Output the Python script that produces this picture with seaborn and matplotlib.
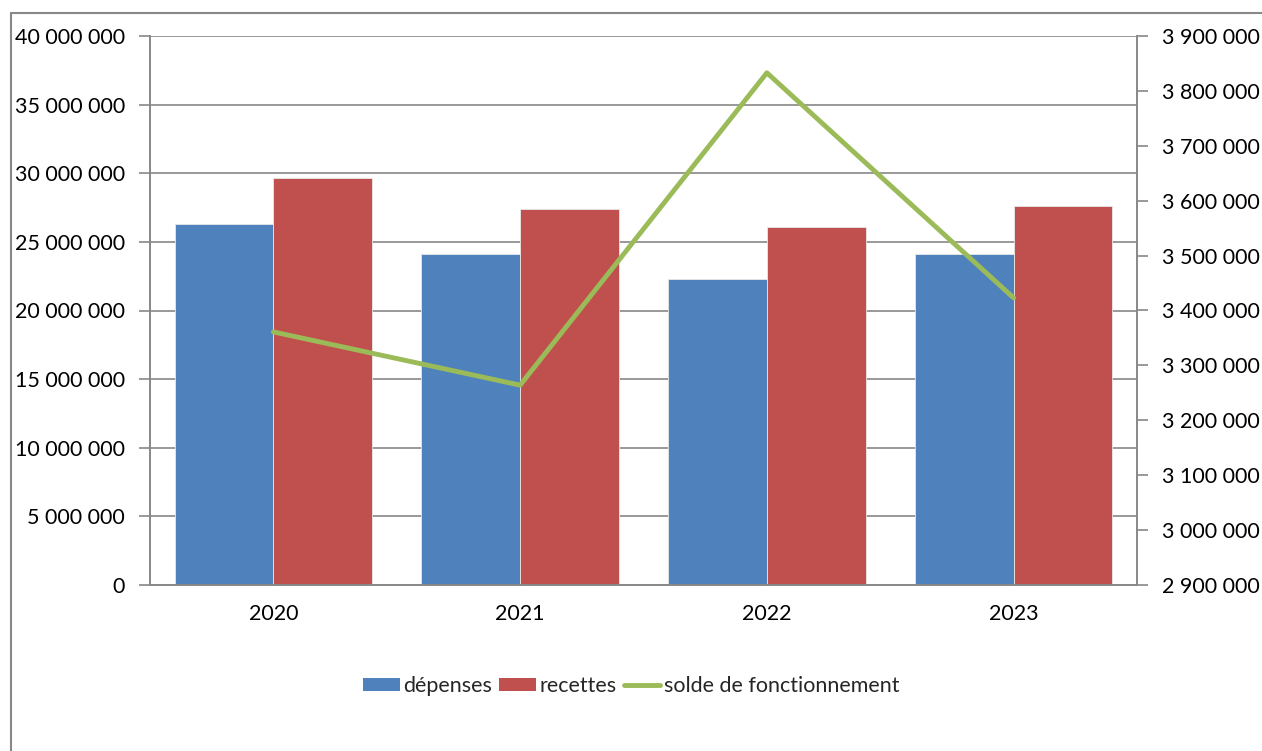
import numpy as np
import pandas as pd
import matplotlib
matplotlib.use("Agg")
import matplotlib.pyplot as plt
import seaborn as sns
from matplotlib.lines import Line2D
from matplotlib.patches import Patch
from matplotlib.ticker import FuncFormatter, FixedLocator

annees = ["2020", "2021", "2022", "2023"]
depenses = [26300000, 24120000, 22300000, 24120000]
recettes = [29650000, 27400000, 26080000, 27610000]
solde = [3361000, 3264000, 3833000, 3423000]

bleu = "#4F81BD"
rouge = "#C0504D"
vert = "#9BBB59"
gris = "#888888"

sns.set_style("white")
plt.rcParams['font.family'] = ['Lato', 'DejaVu Sans']

df = pd.DataFrame({
    "annee": annees * 2,
    "valeur": depenses + recettes,
    "serie": ["dépenses"] * 4 + ["recettes"] * 4,
})

def fmt(v, pos):
    return f"{int(round(v)):,}".replace(",", " ")

fig = plt.figure(figsize=(12.62, 7.51), dpi=100)
ax = fig.add_axes([150/1262, 1-585/751, (1137-150)/1262, (585-36)/751])

sns.barplot(data=df, x="annee", y="valeur", hue="serie",
            palette=[bleu, rouge], saturation=1, width=0.8,
            edgecolor="#e8e8e8", linewidth=0.6, ax=ax, legend=False)
ax.set_ylim(0, 40000000)
ax.set_xlim(-0.5, 3.5)
ax.yaxis.set_major_locator(FixedLocator(np.arange(0, 40000001, 5000000)))
ax.yaxis.set_major_formatter(FuncFormatter(fmt))
ax.grid(axis="y", color=gris, linewidth=1.2)
ax.set_axisbelow(True)
ax.set_xlabel("")
ax.set_ylabel("")

ax2 = ax.twinx()
ax2.plot(np.arange(len(annees)), solde, color=vert, linewidth=3.5, solid_capstyle="round")
ax2.set_ylim(2900000, 3900000)
ax2.yaxis.set_major_locator(FixedLocator(np.arange(2900000, 3900001, 100000)))
ax2.yaxis.set_major_formatter(FuncFormatter(fmt))

for a in (ax, ax2):
    for s in a.spines.values():
        s.set_color(gris)
        s.set_linewidth(1.2)
    a.spines["top"].set_visible(False)

ax.set_xticks(np.arange(len(annees)))
ax.set_xticklabels(annees)
ax.set_xticks(np.arange(-0.5, 4.0, 1.0), minor=True)
ax.tick_params(axis="x", which="major", length=0, pad=14, labelsize=15.5, colors="black")
ax.tick_params(axis="x", which="minor", length=8, width=1.2, color=gris, direction="out")
ax.tick_params(axis="y", length=8, width=1.2, color=gris, direction="out", pad=10,
               labelsize=15.5, labelcolor="black", left=True)
ax2.tick_params(axis="y", length=8, width=1.2, color=gris, direction="out", pad=10,
                labelsize=15.5, labelcolor="black", right=True)

handles = [Patch(facecolor=bleu, edgecolor="none"),
           Patch(facecolor=rouge, edgecolor="none"),
           Line2D([0], [0], color=vert, linewidth=3.5)]
fig.legend(handles, ["dépenses", "recettes", "solde de fonctionnement"],
           loc="center", bbox_to_anchor=(0.5, 1-686/751), ncol=3, frameon=False,
           fontsize=15.5, handlelength=1.7, handleheight=0.55, handletextpad=0.15,
           columnspacing=0.35)

# cadre du graphique
fig.add_artist(Line2D([11/1262, 11/1262], [0, 1-13/751], color=gris, linewidth=1.5))
fig.add_artist(Line2D([11/1262, 1], [1-13/751, 1-13/751], color=gris, linewidth=1.5))

fig.savefig("out.png", dpi=100)
